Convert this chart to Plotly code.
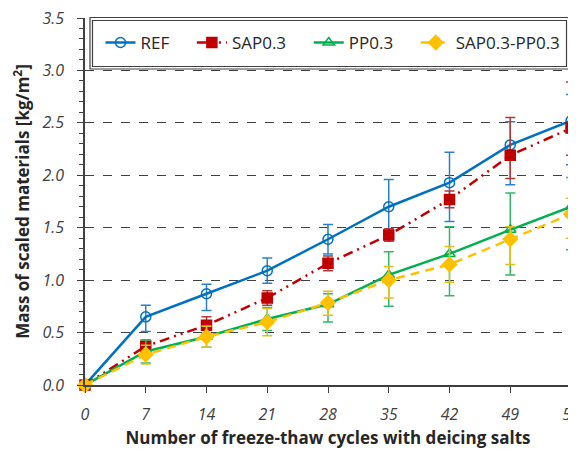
import plotly.graph_objects as go

cycles = [0, 7, 14, 21, 28, 35, 42, 49, 56]

ref = [0, 0.65, 0.87, 1.09, 1.39, 1.70, 1.93, 2.29, 2.52]
ref_up = [0, 0.11, 0.09, 0.12, 0.14, 0.26, 0.29, 0.22, 0.25]
ref_dn = [0, 0.14, 0.16, 0.12, 0.14, 0.26, 0.37, 0.38, 0.42]

sap = [0, 0.37, 0.57, 0.83, 1.16, 1.43, 1.77, 2.19, 2.45]
sap_up = [0, 0.06, 0.08, 0.07, 0.07, 0.06, 0.08, 0.36, 0.44]
sap_dn = [0, 0.06, 0.08, 0.07, 0.07, 0.06, 0.08, 0.22, 0.26]

pp = [0, 0.32, 0.46, 0.63, 0.77, 1.05, 1.25, 1.48, 1.70]
pp_up = [0, 0.11, 0.10, 0.11, 0.10, 0.22, 0.26, 0.35, 0.28]
pp_dn = [0, 0.11, 0.10, 0.11, 0.17, 0.30, 0.40, 0.43, 0.41]

sp = [0, 0.29, 0.46, 0.60, 0.785, 1.00, 1.15, 1.39, 1.63]
sp_up = [0, 0.09, 0.10, 0.13, 0.11, 0.13, 0.17, 0.12, 0.15]
sp_dn = [0, 0.09, 0.10, 0.13, 0.12, 0.17, 0.17, 0.24, 0.23]

names = ["REF", "SAP0.3", "PP0.3", "SAP0.3-PP0.3"]

FONT = "Open Sans"
TXT = "#262626"
PAD = "\u00a0\u00a0\u00a0\u00a0"

fig = go.Figure()

def add(name, y, up, dn, color, ecolor, dash, symbol, msize):
    fig.add_trace(go.Scatter(
        x=cycles, y=y, name=name, mode="lines+markers",
        line=dict(color=color, width=2.5, dash=dash),
        marker=dict(symbol=symbol, size=msize, color=color,
                    line=dict(color=color, width=1.5)),
        error_y=dict(type="data", symmetric=False, array=up, arrayminus=dn,
                     color=ecolor, thickness=1.5, width=5),
        cliponaxis=False,
    ))

add(names[0] + PAD, ref, ref_up, ref_dn, "#0070C0", "#2E7FC8", "solid", "circle-open", 10)
add(names[1] + PAD, sap, sap_up, sap_dn, "#C00000", "#B03A3A", "10px,5px,2px,5px,2px,5px", "square", 10)
add(names[2] + PAD, pp, pp_up, pp_dn, "#00B050", "#33B86A", "solid", "triangle-up-open", 10)
add(names[3], sp, sp_up, sp_dn, "#FFC000", "#E0C020", "9px,6px", "diamond", 11)

# page has an 8px body margin: figure is placed at (8, 8) in the screenshot
OFF = 8
W, H = 576 - OFF, 449 - OFF
# desired plot area in screenshot pixels
SX0, SX1, SY0, SY1 = 85, 571, 18, 385
L, R = SX0 - OFF, W - (SX1 - OFF)
T, B = SY0 - OFF, H - (SY1 - OFF)
pw, ph = W - L - R, H - T - B

def px(x):
    return (x - SX0) / pw

def py(y):
    return (SY1 - y) / ph

fig.add_shape(type="rect", xref="paper", yref="paper",
              x0=px(90), x1=px(569), y0=py(69), y1=py(17.5),
              line=dict(color="#404040", width=1.2), fillcolor="white", layer="above")
fig.add_shape(type="rect", xref="paper", yref="paper",
              x0=px(92.5), x1=px(566.5), y0=py(66.5), y1=py(20.5),
              line=dict(color="#404040", width=1.2), fillcolor="rgba(0,0,0,0)", layer="above")

fig.update_layout(
    width=W, height=H,
    margin=dict(l=L, r=R, t=T, b=B, autoexpand=False),
    paper_bgcolor="white", plot_bgcolor="white",
    font=dict(family=FONT, color=TXT),
    showlegend=True,
    legend=dict(orientation="h", x=px(333), xanchor="center", y=py(43), yanchor="middle",
                bgcolor="rgba(0,0,0,0)", borderwidth=0,
                font=dict(family=FONT, size=17, color=TXT),
                traceorder="normal", itemwidth=30),
)

fig.update_xaxes(
    range=[0, 56], tickmode="array", tickvals=cycles,
    ticktext=[str(c) for c in cycles],
    ticks="outside", ticklen=6, tickwidth=1.2, tickcolor="#404040",
    showline=True, linecolor="#404040", linewidth=1.5, mirror=False,
    showgrid=False, zeroline=False, automargin=False,
    ticklabeloverflow="allow",
    tickfont=dict(family=FONT, size=16, color="#404040", style="italic"),
    ticklabelstandoff=8,
    title=dict(text="<b>Number of freeze-thaw cycles with deicing salts</b>",
               font=dict(family=FONT, size=17, color=TXT), standoff=11),
)

fig.update_yaxes(
    range=[0, 3.5], dtick=0.5, tick0=0, tickformat=".1f",
    ticks="outside", ticklen=6, tickwidth=1.2, tickcolor="#404040",
    minor=dict(dtick=0.1, ticks="outside", ticklen=4, tickwidth=1, tickcolor="#404040", showgrid=False),
    showline=True, linecolor="#404040", linewidth=1.5, mirror=True,
    showgrid=True, gridcolor="#404040", gridwidth=1.2, griddash="dash",
    zeroline=False, automargin=False,
    ticklabeloverflow="allow",
    tickfont=dict(family=FONT, size=16, color="#404040", style="italic"),
    ticklabelstandoff=10,
    title=dict(text="<b>Mass of scaled materials [kg/m<sup>2</sup>]</b>",
               font=dict(family=FONT, size=17, color=TXT), standoff=8),
)

fig.write_html("out.html")
